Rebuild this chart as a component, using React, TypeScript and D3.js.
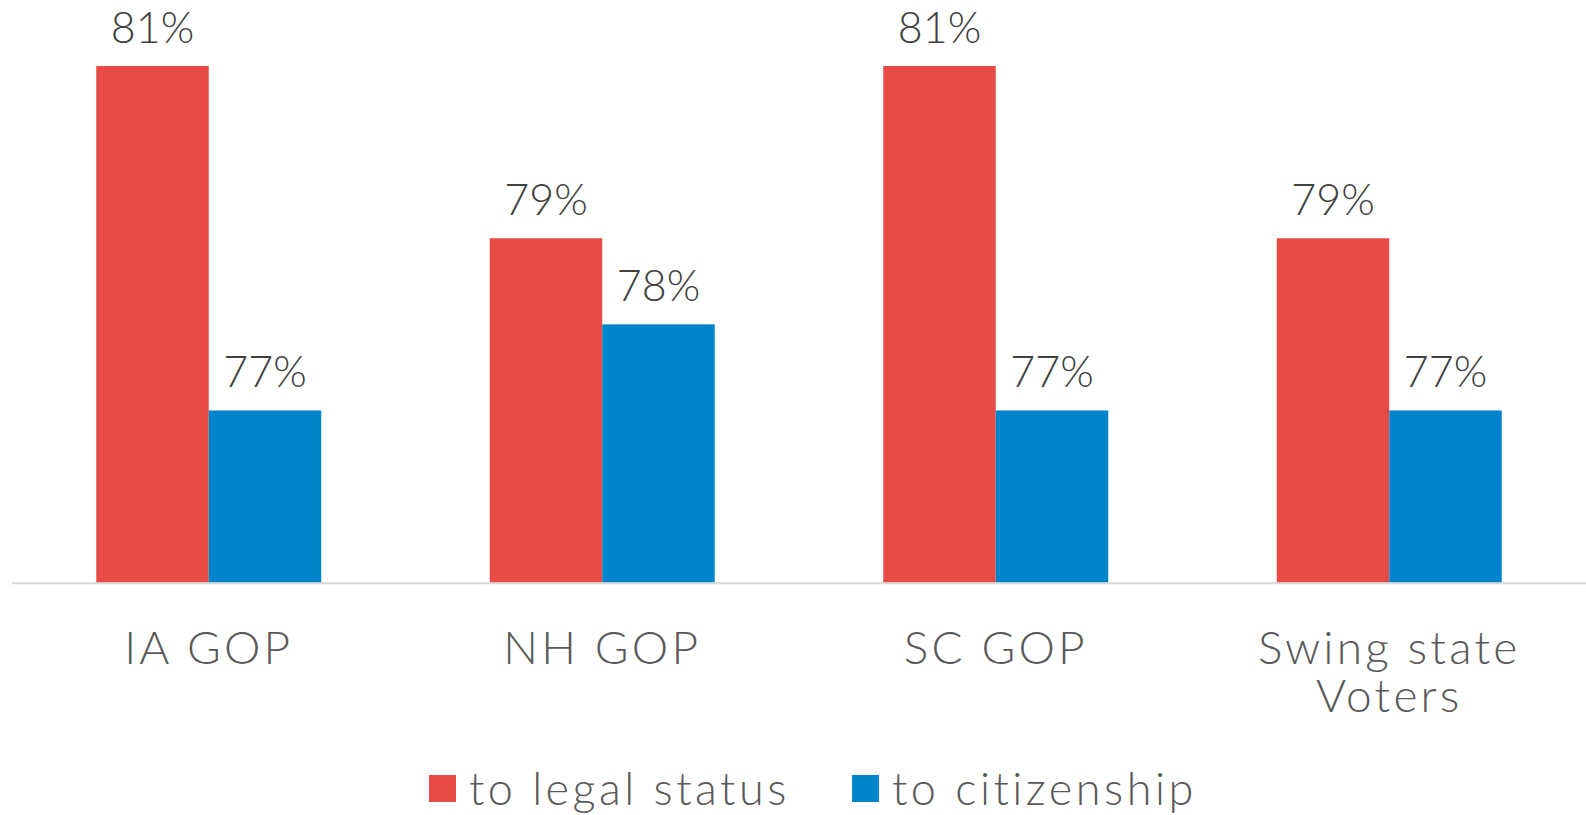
import React from "react";
import * as d3 from "d3";

const categories: string[][] = [["IA GOP"], ["NH GOP"], ["SC GOP"], ["Swing state", "Voters"]];
const seriesNames = ["to legal status", "to citizenship"];
const legalStatus = [81, 79, 81, 79];
const citizenship = [77, 78, 77, 77];
const seriesColors = ["#E84B45", "#0084CC"];

const W = 1586;
const H = 815;
const FONT = "Lato, 'Open Sans', sans-serif";
const TEXT = "#595959";

export default function App() {
  const x0 = d3.scaleBand<number>().domain(d3.range(categories.length)).range([12, W]).padding(0);
  const x1 = d3
    .scaleBand<number>()
    .domain([0, 1])
    .range([0, x0.bandwidth()])
    .paddingInner(0)
    .paddingOuter(0.749);
  const y = d3.scaleLinear().domain([75, 81]).range([582.7, 66]);
  const series = [legalStatus, citizenship];

  return (
    <svg
      width={W}
      height={H}
      style={{ position: "absolute", left: 0, top: 0, background: "#fff" }}
      fontFamily={FONT}
      fontWeight={300}
    >
      {categories.map((cat, i) => (
        <g key={i} transform={`translate(${x0(i)},0)`}>
          {series.map((vals, s) => (
            <g key={s}>
              <rect
                x={x1(s)!}
                y={y(vals[i])}
                width={x1.bandwidth()}
                height={y(75) - y(vals[i])}
                fill={seriesColors[s]}
              />
              <text
                x={x1(s)! + x1.bandwidth() / 2}
                y={y(vals[i]) - 23}
                textAnchor="middle"
                fontSize={43}
                fill="#404040"
              >
                {vals[i]}%
              </text>
            </g>
          ))}
          <text textAnchor="middle" fontSize={46} fill={TEXT} letterSpacing={3.2}>
            {cat.map((line, li) => (
              <tspan key={li} x={x0.bandwidth() / 2} y={664 + li * 48}>
                {line}
              </tspan>
            ))}
          </text>
        </g>
      ))}
      <line x1={12} x2={W} y1={y(75) + 0.5} y2={y(75) + 0.5} stroke="#D9D9D9" strokeWidth={2} />
      {seriesNames.map((name, s) => {
        const lx = s === 0 ? 429 : 852;
        return (
          <g key={name}>
            <rect x={lx} y={775} width={27} height={27} fill={seriesColors[s]} />
            <text x={lx + 40} y={805} fontSize={45} fill={TEXT} letterSpacing={3.5}>
              {name}
            </text>
          </g>
        );
      })}
    </svg>
  );
}
